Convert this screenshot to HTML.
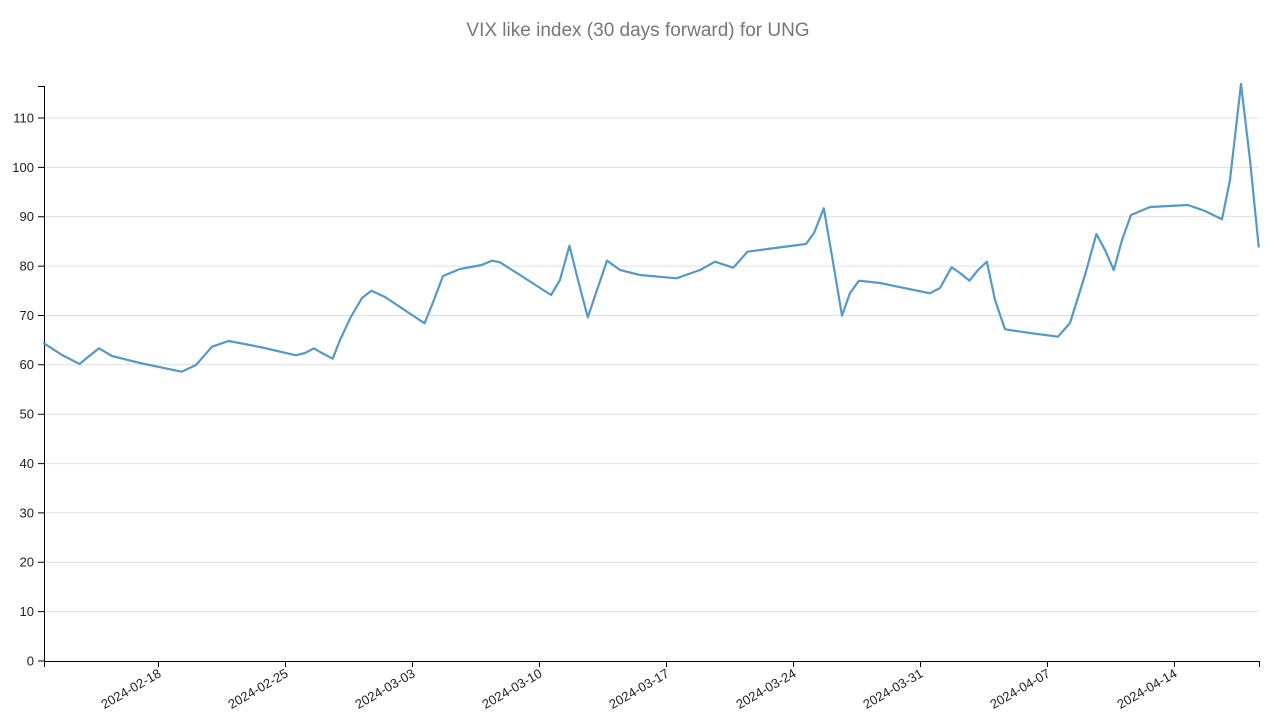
<!DOCTYPE html>
<html><head><meta charset="utf-8"><style>
html,body{margin:0;padding:0;background:#fff;}
svg{display:block;font-family:"Liberation Sans",Arial,sans-serif;}
</style></head><body>
<svg width="1276" height="721" viewBox="0 0 1276 721" xmlns="http://www.w3.org/2000/svg">
<text x="638" y="36" text-anchor="middle" font-size="19" fill="#777">VIX like index (30 days forward) for UNG</text>
<g stroke="#e0e0e0" stroke-width="1">
<line x1="44" x2="1259" y1="611.6" y2="611.6"/><line x1="44" x2="1259" y1="562.3" y2="562.3"/>
<line x1="44" x2="1259" y1="512.9" y2="512.9"/><line x1="44" x2="1259" y1="463.6" y2="463.6"/>
<line x1="44" x2="1259" y1="414.2" y2="414.2"/><line x1="44" x2="1259" y1="364.8" y2="364.8"/>
<line x1="44" x2="1259" y1="315.5" y2="315.5"/><line x1="44" x2="1259" y1="266.1" y2="266.1"/>
<line x1="44" x2="1259" y1="216.8" y2="216.8"/><line x1="44" x2="1259" y1="167.4" y2="167.4"/>
<line x1="44" x2="1259" y1="118" y2="118"/>
</g>
<g font-size="13" fill="#222" text-anchor="end">
<text x="34" y="665.5">0</text><text x="34" y="616">10</text><text x="34" y="566.7">20</text>
<text x="34" y="517.3">30</text><text x="34" y="468">40</text><text x="34" y="418.6">50</text>
<text x="34" y="369.2">60</text><text x="34" y="319.9">70</text><text x="34" y="270.5">80</text>
<text x="34" y="221.2">90</text><text x="34" y="171.8">100</text><text x="34" y="122.4">110</text>
</g>
<g stroke="#000" stroke-width="1" fill="none">
<path d="M38,86.5H44.5V661.5H1259.5V667"/>
<path d="M38,611.6H44M38,562.3H44M38,512.9H44M38,463.6H44M38,414.2H44M38,364.8H44M38,315.5H44M38,266.1H44M38,216.8H44M38,167.4H44M38,118H44M38,661H44"/>
<path d="M44.5,661V667M158.5,661V667M285.5,661V667M412.5,661V667M539.5,661V667M666.5,661V667M793.5,661V667M920.5,661V667M1047.5,661V667M1174.5,661V667"/>
</g>
<g font-size="13" fill="#222" text-anchor="end">
<text transform="translate(162,676) rotate(-30)">2024-02-18</text>
<text transform="translate(289,676) rotate(-30)">2024-02-25</text>
<text transform="translate(416,676) rotate(-30)">2024-03-03</text>
<text transform="translate(543,676) rotate(-30)">2024-03-10</text>
<text transform="translate(670,676) rotate(-30)">2024-03-17</text>
<text transform="translate(797,676) rotate(-30)">2024-03-24</text>
<text transform="translate(924,676) rotate(-30)">2024-03-31</text>
<text transform="translate(1051,676) rotate(-30)">2024-04-07</text>
<text transform="translate(1178,676) rotate(-30)">2024-04-14</text>
</g>
<polyline fill="none" stroke="#5499c7" stroke-width="2.2" stroke-linejoin="round" stroke-linecap="round" points="
44,343.3 62,355 79.6,364 88,357 99,348.3 112,356 140,363 181.6,371.7 196,365 212,346.7 228.6,341 260,347 296,355.3 305,353 314,348.3 320,352 332.7,358.7 340,340 351,316.7 362,298 371.4,290.7 385,297 424.5,323.3 432,305 443,276 460,269 481.6,265 492,260.7 500,262.3 520,275 551,295 560,280 569.4,245.7 578,280 587.8,317.3 597,290 607,260.7 620,270 640,275 676.5,278.3 700,270 715,261.7 733.3,267.7 747.5,251.7 775,248 806,244 814,233 823.8,208.3 833,262 842,315.7 850,293 859,280.7 880,283 930,293.3 940,288 951.6,267.3 960,273 969.4,280.7 978,270 986.9,261.7 995,300 1005,329.3 1030,333 1058,336.7 1070,323 1085,275 1096.4,234 1105,250 1113.8,270 1122,240 1131,215 1150,207 1188,205 1205,211 1222,219.3 1230,180 1241,84 1250,160 1258.7,246.7"/>
</svg>
</body></html>
